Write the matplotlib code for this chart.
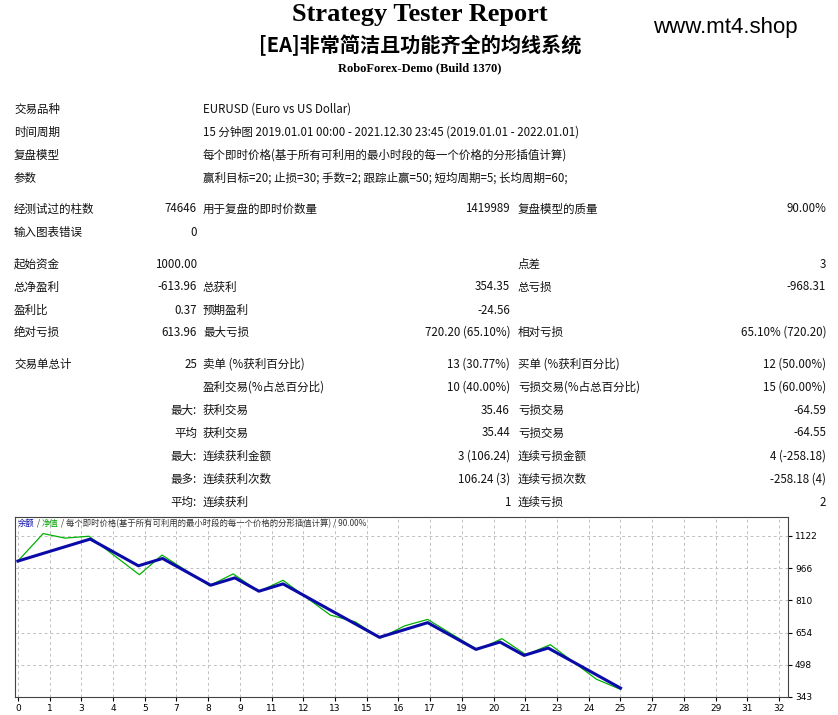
import matplotlib
matplotlib.use("Agg")
import matplotlib.pyplot as plt

plt.rcParams['font.family'] = ['Noto Sans CJK SC', 'DejaVu Sans']

balance_x = [0, 3, 5, 6, 8, 9, 10, 11, 15, 17, 19, 20, 21, 22, 25]
balance_y = [1000.00, 1106.24, 977.10, 1012.55, 883.40, 918.85, 854.30, 889.72, 631.54, 702.40, 573.30, 608.72, 544.16, 579.60, 386.04]
equity_x = [0, 1.05, 1.95, 2.95, 5.04, 5.98, 7.95, 8.93, 10.0, 11.0, 12.96, 14.0, 15.04, 16.05, 17.0, 19.07, 20.08, 21.08, 22.09, 24.0, 25]
equity_y = [1000, 1133, 1111, 1120, 934, 1029, 881, 938, 853, 907, 739, 706, 628, 687, 718, 571, 625, 547, 596, 429, 380]
ytick_vals = [343, 498, 654, 810, 966, 1122]
xtick_labels = ['0','1','3','4','5','7','8','9','11','12','13','15','16','17','19','20','21','23','24','25','27','28','29','31','32']

rows = [
    (108, [('交易品种', 14, 'left'), ('EURUSD (Euro vs US Dollar)', 203, 'left')]),
    (131, [('时间周期', 14, 'left'), ('15 分钟图 2019.01.01 00:00 - 2021.12.30 23:45 (2019.01.01 - 2022.01.01)', 203, 'left')]),
    (154, [('复盘模型', 14, 'left'), ('每个即时价格(基于所有可利用的最小时段的每一个价格的分形插值计算)', 203, 'left')]),
    (177, [('参数', 14, 'left'), ('赢利目标=20; 止损=30; 手数=2; 跟踪止赢=50; 短均周期=5; 长均周期=60;', 203, 'left')]),
    (208, [('经测试过的柱数', 14, 'left'), ('74646', 197, 'right'), ('用于复盘的即时价数量', 203, 'left'), ('1419989', 510, 'right'), ('复盘模型的质量', 518, 'left'), ('90.00%', 826, 'right')]),
    (231, [('输入图表错误', 14, 'left'), ('0', 197, 'right')]),
    (263, [('起始资金', 14, 'left'), ('1000.00', 197, 'right'), ('点差', 518, 'left'), ('3', 826, 'right')]),
    (286, [('总净盈利', 14, 'left'), ('-613.96', 197, 'right'), ('总获利', 203, 'left'), ('354.35', 510, 'right'), ('总亏损', 518, 'left'), ('-968.31', 826, 'right')]),
    (309, [('盈利比', 14, 'left'), ('0.37', 197, 'right'), ('预期盈利', 203, 'left'), ('-24.56', 510, 'right')]),
    (331, [('绝对亏损', 14, 'left'), ('613.96', 197, 'right'), ('最大亏损', 203, 'left'), ('720.20 (65.10%)', 510, 'right'), ('相对亏损', 518, 'left'), ('65.10% (720.20)', 826, 'right')]),
    (363, [('交易单总计', 14, 'left'), ('25', 197, 'right'), ('卖单 (%获利百分比)', 203, 'left'), ('13 (30.77%)', 510, 'right'), ('买单 (%获利百分比)', 518, 'left'), ('12 (50.00%)', 826, 'right')]),
    (386, [('盈利交易(%占总百分比)', 203, 'left'), ('10 (40.00%)', 510, 'right'), ('亏损交易(%占总百分比)', 518, 'left'), ('15 (60.00%)', 826, 'right')]),
    (409, [('最大:', 197, 'right'), ('获利交易', 203, 'left'), ('35.46', 510, 'right'), ('亏损交易', 518, 'left'), ('-64.59', 826, 'right')]),
    (432, [('平均', 197, 'right'), ('获利交易', 203, 'left'), ('35.44', 510, 'right'), ('亏损交易', 518, 'left'), ('-64.55', 826, 'right')]),
    (455, [('最大:', 197, 'right'), ('连续获利金额', 203, 'left'), ('3 (106.24)', 510, 'right'), ('连续亏损金额', 518, 'left'), ('4 (-258.18)', 826, 'right')]),
    (478, [('最多:', 197, 'right'), ('连续获利次数', 203, 'left'), ('106.24 (3)', 510, 'right'), ('连续亏损次数', 518, 'left'), ('-258.18 (4)', 826, 'right')]),
    (501, [('平均:', 197, 'right'), ('连续获利', 203, 'left'), ('1', 510, 'right'), ('连续亏损', 518, 'left'), ('2', 826, 'right')]),
]

W, H = 838, 715
fig = plt.figure(figsize=(W/100, H/100), dpi=100)
fig.patch.set_facecolor('white')

def ft(x, y, s, va='center', **kw):
    fig.text(x/W, 1-y/H, s, va=va, **kw)

ft(420, 15, 'Strategy Tester Report', ha='center', fontsize=19, fontweight='bold', family=['Liberation Serif', 'DejaVu Serif'])
ft(420, 45, '[EA]非常简洁且功能齐全的均线系统', ha='center', fontsize=14.5, fontweight='bold')
ft(420, 68, 'RoboForex-Demo (Build 1370)', ha='center', fontsize=9, fontweight='bold', family=['Liberation Serif', 'DejaVu Serif'])
ft(725, 27, 'www.mt4.shop', ha='center', fontsize=16, family=['Liberation Sans', 'DejaVu Sans'])

for y, items in rows:
    for s, x, ha in items:
        ft(x, y + 4.5, s, va='baseline', ha=ha, fontsize=8.3, color='#111111')

ax = fig.add_axes([15/W, 18/H, (788-15)/W, 180/H])
ax.plot(equity_x, equity_y, color='#00b000', lw=0.9)
ax.plot(balance_x, balance_y, color='#0a0aa8', lw=2.2)
ax.set_xlim(-0.12, 31.95)
ax.set_ylim(343, 1213)
xt = [k*25/19 for k in range(len(xtick_labels))]
ax.set_xticks(xt)
ax.set_xticklabels(xtick_labels, fontsize=6.5, family=['DejaVu Sans'])
ax.set_yticks(ytick_vals)
ax.set_yticklabels([str(v) for v in ytick_vals], fontsize=6.5, family=['DejaVu Sans'])
ax.yaxis.tick_right()
ax.tick_params(length=3, pad=2)
ax.grid(True, color='#c0c0c0', ls=(0, (3, 3)), lw=0.7)
for sp in ax.spines.values():
    sp.set_color('#444444'); sp.set_linewidth(0.8)

t1 = ax.text(0.004, 0.965, '余额', transform=ax.transAxes, fontsize=6, color='#0a0aa8', va='center')
t2 = ax.annotate(' / ', xy=(1, 0), xycoords=t1, fontsize=6, color='#333333', va='bottom')
t3 = ax.annotate('净值', xy=(1, 0), xycoords=t2, fontsize=6, color='#00a000', va='bottom')
ax.annotate(' / 每个即时价格(基于所有可利用的最小时段的每一个价格的分形插值计算) / 90.00%', xy=(1, 0), xycoords=t3, fontsize=6, color='#333333', va='bottom')

fig.savefig('out.png', dpi=100)
